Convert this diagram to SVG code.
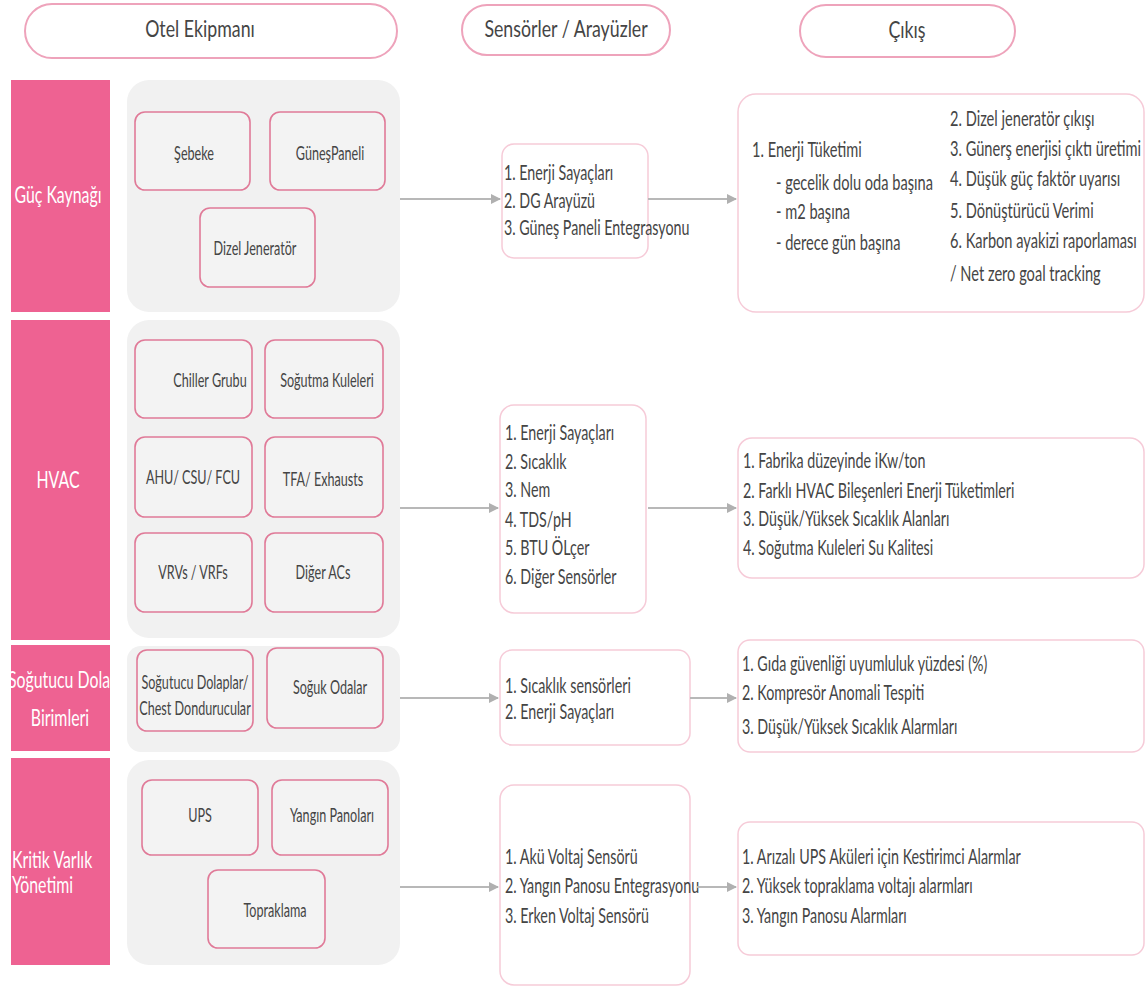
<svg xmlns="http://www.w3.org/2000/svg" width="1147" height="991" viewBox="0 0 1147 991">
<defs>
<style>
text{font-family:Lato,"Noto Sans","DejaVu Sans",sans-serif;fill:#454545;transform-box:fill-box;}
.c{text-anchor:middle;transform-origin:center;}
.l{transform-origin:left;}
.hdr rect{fill:#fff;stroke:#eea3bb;stroke-width:2;}
.hdr text{font-size:24px;transform:scaleX(0.74);}
.cat rect{fill:#ee6292;}
.cat text{fill:#fff;font-size:23px;transform:scaleX(0.69);}
.panel{fill:#f1f1f1;}
.eq rect{fill:#f3f3f3;stroke:#e07a98;stroke-width:1.6;}
.eq text{font-size:20px;transform:scaleX(0.63);}
.box rect{fill:#fff;stroke:#f6cbd8;stroke-width:1.5;}
.sn text{font-size:21px;transform:scaleX(0.68);}
.op text{font-size:21.5px;transform:scaleX(0.68);}
.om text{font-size:22px;transform:scaleX(0.65);}
.ok text{font-size:22px;transform:scaleX(0.65);}
.conn path{stroke:#b8b8b8;stroke-width:2;fill:none;marker-end:url(#ah);}
</style>
<marker id="ah" viewBox="0 0 10 10" refX="9" refY="5" markerWidth="5" markerHeight="5" orient="auto">
<path d="M0,0 L10,5 L0,10 z" fill="#b0b0b0"/>
</marker>
</defs>
<rect width="1147" height="991" fill="#fff"/>

<g id="hdr-otel" class="hdr"><rect x="25" y="4" width="372" height="54" rx="27"/><text class="c" x="200" y="37">Otel Ekipmanı</text></g>
<g id="hdr-sensor" class="hdr"><rect x="462" y="5" width="208" height="50" rx="25"/><text class="c" x="566" y="37">Sensörler / Arayüzler</text></g>
<g id="hdr-cikis" class="hdr"><rect x="800" y="5" width="215" height="52" rx="26"/><text class="c" x="907" y="38">Çıkış</text></g>

<g id="cat-guc" class="cat"><rect x="11" y="80" width="99" height="232"/><text class="c" x="58" y="203">Güç Kaynağı</text></g>
<g id="cat-hvac" class="cat"><rect x="11" y="320" width="99" height="320"/><text class="c" x="58" y="488">HVAC</text></g>
<g id="cat-sogutucu" class="cat"><rect x="11" y="645" width="99" height="106"/><text class="c" x="59" y="688">Soğutucu Dola</text><text class="c" x="60" y="726">Birimleri</text></g>
<g id="cat-kritik" class="cat"><rect x="11" y="758" width="99" height="207"/><text class="l" x="12" y="868">Kritik Varlık</text><text class="l" x="12" y="893">Yönetimi</text></g>

<g id="panels">
<rect class="panel" x="127" y="80" width="273" height="232" rx="22"/>
<rect class="panel" x="127" y="320" width="273" height="318" rx="22"/>
<rect class="panel" x="127" y="646" width="273" height="106" rx="14"/>
<rect class="panel" x="127" y="760" width="273" height="205" rx="22"/>
</g>

<g id="eq-sebeke" class="eq"><rect x="135" y="112" width="115" height="78" rx="10"/><text class="c" x="194" y="160">Şebeke</text></g>
<g id="eq-gunes" class="eq"><rect x="270" y="112" width="115" height="78" rx="10"/><text class="c" x="330" y="160">GüneşPaneli</text></g>
<g id="eq-dizel" class="eq"><rect x="200" y="208" width="115" height="79" rx="10"/><text class="c" x="255" y="255">Dizel Jeneratör</text></g>

<g id="eq-chiller" class="eq"><rect x="135" y="340" width="117" height="78" rx="10"/><text class="c" x="210" y="387">Chiller Grubu</text></g>
<g id="eq-sogutma" class="eq"><rect x="265" y="340" width="118" height="78" rx="10"/><text class="c" x="327" y="387">Soğutma Kuleleri</text></g>
<g id="eq-ahu" class="eq"><rect x="135" y="437" width="117" height="80" rx="10"/><text class="c" x="193" y="484">AHU/ CSU/ FCU</text></g>
<g id="eq-tfa" class="eq"><rect x="265" y="437" width="118" height="80" rx="10"/><text class="c" x="323" y="486">TFA/ Exhausts</text></g>
<g id="eq-vrv" class="eq"><rect x="135" y="533" width="117" height="79" rx="10"/><text class="c" x="193" y="579">VRVs / VRFs</text></g>
<g id="eq-diger" class="eq"><rect x="265" y="533" width="118" height="79" rx="10"/><text class="c" x="323" y="579">Diğer ACs</text></g>

<g id="eq-dolap" class="eq"><rect x="137" y="650" width="116" height="81" rx="10"/><text class="c" x="195" y="689">Soğutucu Dolaplar/</text><text class="c" x="195" y="715">Chest Dondurucular</text></g>
<g id="eq-soguk" class="eq"><rect x="267" y="648" width="116" height="80" rx="10"/><text class="c" x="330" y="694">Soğuk Odalar</text></g>

<g id="eq-ups" class="eq"><rect x="142" y="780" width="116" height="75" rx="10"/><text class="c" x="200" y="822">UPS</text></g>
<g id="eq-yangin" class="eq"><rect x="272" y="780" width="116" height="75" rx="10"/><text class="c" x="332" y="822">Yangın Panoları</text></g>
<g id="eq-toprak" class="eq"><rect x="208" y="870" width="117" height="78" rx="10"/><text class="c" x="275" y="917">Topraklama</text></g>

<g id="sn-guc" class="box sn"><rect x="502" y="144" width="146" height="114" rx="12"/>
<text class="l" x="504" y="180">1. Enerji Sayaçları</text>
<text class="l" x="504" y="208">2. DG Arayüzü</text>
<text class="l" x="504" y="235">3. Güneş Paneli Entegrasyonu</text></g>

<g id="sn-hvac" class="box sn"><rect x="500" y="405" width="146" height="208" rx="14"/>
<text class="l" x="505" y="440">1. Enerji Sayaçları</text>
<text class="l" x="505" y="469">2. Sıcaklık</text>
<text class="l" x="505" y="497">3. Nem</text>
<text class="l" x="505" y="527">4. TDS/pH</text>
<text class="l" x="505" y="555">5. BTU ÖLçer</text>
<text class="l" x="505" y="584">6. Diğer Sensörler</text></g>

<g id="sn-sogutucu" class="box sn"><rect x="500" y="650" width="190" height="95" rx="12"/>
<text class="l" x="505" y="693">1. Sıcaklık sensörleri</text>
<text class="l" x="505" y="719">2. Enerji Sayaçları</text></g>

<g id="sn-kritik" class="box sn"><rect x="500" y="785" width="190" height="200" rx="14"/>
<text class="l" x="505" y="864">1. Akü Voltaj Sensörü</text>
<text class="l" x="505" y="893">2. Yangın Panosu Entegrasyonu</text>
<text class="l" x="505" y="923">3. Erken Voltaj Sensörü</text></g>

<g id="out-guc" class="box op"><rect x="738" y="94" width="406" height="218" rx="18"/>
<text class="l" x="752" y="157">1. Enerji Tüketimi</text>
<text class="l" x="776" y="190">- gecelik dolu oda başına</text>
<text class="l" x="776" y="219">- m2 başına</text>
<text class="l" x="776" y="250">- derece gün başına</text>
<text class="l" x="950" y="126">2. Dizel jeneratör çıkışı</text>
<text class="l" x="950" y="156">3. Günerş enerjisi çıktı üretimi</text>
<text class="l" x="950" y="186">4. Düşük güç faktör uyarısı</text>
<text class="l" x="950" y="218">5. Dönüştürücü Verimi</text>
<text class="l" x="950" y="248">6. Karbon ayakizi raporlaması</text>
<text class="l" x="950" y="281">/ Net zero goal tracking</text></g>

<g id="out-hvac" class="box om"><rect x="738" y="438" width="406" height="140" rx="14"/>
<text class="l" x="743" y="468">1. Fabrika düzeyinde iKw/ton</text>
<text class="l" x="743" y="498">2. Farklı HVAC Bileşenleri Enerji Tüketimleri</text>
<text class="l" x="743" y="526">3.  Düşük/Yüksek Sıcaklık Alanları</text>
<text class="l" x="743" y="555">4. Soğutma Kuleleri Su Kalitesi</text></g>

<g id="out-sogutucu" class="box om"><rect x="738" y="640" width="406" height="112" rx="12"/>
<text class="l" x="742" y="671">1. Gıda güvenliği uyumluluk yüzdesi (%)</text>
<text class="l" x="742" y="700">2. Kompresör Anomali Tespiti</text>
<text class="l" x="742" y="734">3. Düşük/Yüksek Sıcaklık Alarmları</text></g>

<g id="out-kritik" class="box ok"><rect x="738" y="822" width="406" height="133" rx="12"/>
<text class="l" x="742" y="864">1. Arızalı UPS Aküleri için Kestirimci Alarmlar</text>
<text class="l" x="742" y="893">2. Yüksek topraklama voltajı alarmları</text>
<text class="l" x="742" y="923">3. Yangın Panosu Alarmları</text></g>

<g id="connectors" class="conn">
<path d="M400,199 H500"/>
<path d="M648,199 H736"/>
<path d="M400,508 H498"/>
<path d="M648,508 H736"/>
<path d="M400,698 H498"/>
<path d="M690,698 H736"/>
<path d="M400,887 H498"/>
<path d="M697,887 H736"/>
</g>
</svg>
